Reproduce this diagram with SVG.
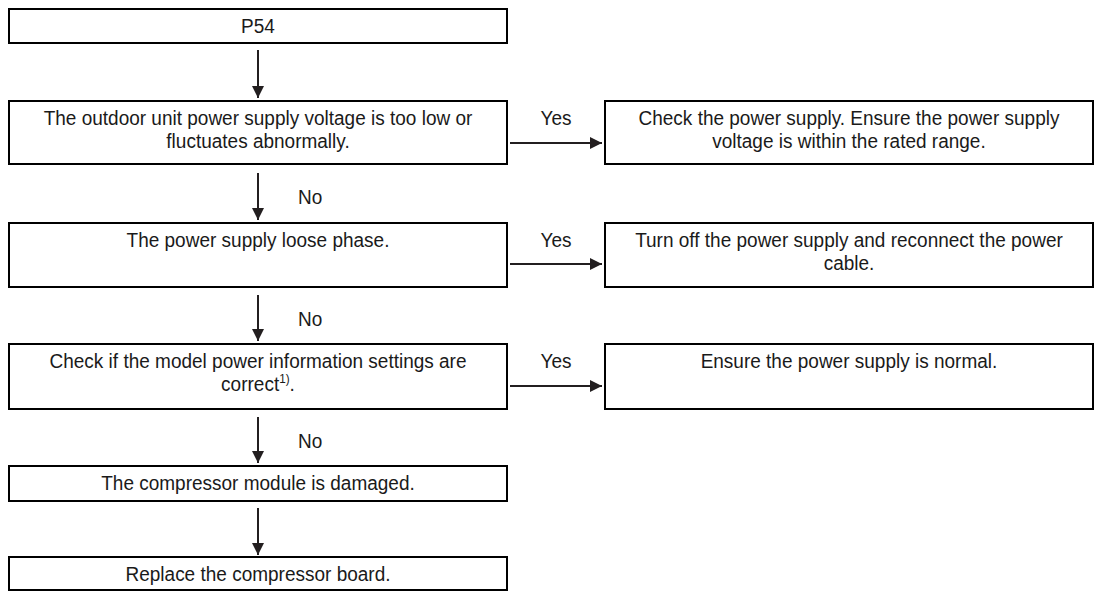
<svg xmlns="http://www.w3.org/2000/svg" width="1094" height="592" viewBox="0 0 1094 592">
<style>
.box{fill:#fff;stroke:#000;stroke-width:2}
.t{font-family:"Liberation Sans",Arial,sans-serif;font-size:21px;fill:#1a1a1a;text-anchor:middle}
.lbl{font-family:"Liberation Sans",Arial,sans-serif;font-size:21px;fill:#1a1a1a}
.c{stroke:#231f20;stroke-width:2;fill:none;marker-end:url(#ah)}
</style>
<defs>
<marker id="ah" markerWidth="12" markerHeight="13" refX="12" refY="6" orient="auto" markerUnits="userSpaceOnUse" viewBox="0 0 12 12">
<path d="M0,0 L12,6 L0,12 Z" fill="#231f20"/>
</marker>
</defs>
<rect width="1094" height="592" fill="#fff"/>
<g id="n1"><rect class="box" x="9" y="9" width="498" height="34"/><text class="t" transform="scale(0.905,1)" x="285.1" y="33">P54</text></g>
<g id="n2"><rect class="box" x="9" y="101" width="498" height="63"/><text class="t" transform="scale(0.905,1)" x="285.1" y="125">The outdoor unit power supply voltage is too low or</text><text class="t" transform="scale(0.905,1)" x="285.1" y="148">fluctuates abnormally.</text></g>
<g id="n3"><rect class="box" x="605" y="101" width="488" height="63"/><text class="t" transform="scale(0.905,1)" x="938.1" y="125">Check the power supply. Ensure the power supply</text><text class="t" transform="scale(0.905,1)" x="938.1" y="148">voltage is within the rated range.</text></g>
<g id="n4"><rect class="box" x="9" y="223" width="498" height="64"/><text class="t" transform="scale(0.905,1)" x="285.1" y="247">The power supply loose phase.</text></g>
<g id="n5"><rect class="box" x="605" y="223" width="488" height="64"/><text class="t" transform="scale(0.905,1)" x="938.1" y="247">Turn off the power supply and reconnect the power</text><text class="t" transform="scale(0.905,1)" x="938.1" y="270">cable.</text></g>
<g id="n6"><rect class="box" x="9" y="344" width="498" height="65"/><text class="t" transform="scale(0.905,1)" x="285.1" y="368">Check if the model power information settings are</text><text class="t" transform="scale(0.905,1)" x="285.1" y="391">correct<tspan font-size="13" dy="-8">1)</tspan><tspan dy="8">.</tspan></text></g>
<g id="n7"><rect class="box" x="605" y="344" width="488" height="65"/><text class="t" transform="scale(0.905,1)" x="938.1" y="368">Ensure the power supply is normal.</text></g>
<g id="n8"><rect class="box" x="9" y="466" width="498" height="35"/><text class="t" transform="scale(0.905,1)" x="285.1" y="490">The compressor module is damaged.</text></g>
<g id="n9"><rect class="box" x="9" y="557" width="498" height="33"/><text class="t" transform="scale(0.905,1)" x="285.1" y="581">Replace the compressor board.</text></g>
<g id="connectors">
<line class="c" x1="258" y1="50" x2="258" y2="98"/>
<line class="c" x1="258" y1="173" x2="258" y2="220"/>
<line class="c" x1="258" y1="295" x2="258" y2="341"/>
<line class="c" x1="258" y1="417" x2="258" y2="463"/>
<line class="c" x1="258" y1="508" x2="258" y2="555"/>
<line class="c" x1="510" y1="143" x2="602" y2="143"/>
<line class="c" x1="510" y1="264" x2="602" y2="264"/>
<line class="c" x1="510" y1="386" x2="602" y2="386"/>
<text class="lbl" transform="scale(0.905,1)" x="614.4" y="125" text-anchor="middle">Yes</text>
<text class="lbl" transform="scale(0.905,1)" x="614.4" y="247" text-anchor="middle">Yes</text>
<text class="lbl" transform="scale(0.905,1)" x="614.4" y="368" text-anchor="middle">Yes</text>
<text class="lbl" transform="scale(0.905,1)" x="329.3" y="204">No</text>
<text class="lbl" transform="scale(0.905,1)" x="329.3" y="326">No</text>
<text class="lbl" transform="scale(0.905,1)" x="329.3" y="448">No</text>
</g>
</svg>
